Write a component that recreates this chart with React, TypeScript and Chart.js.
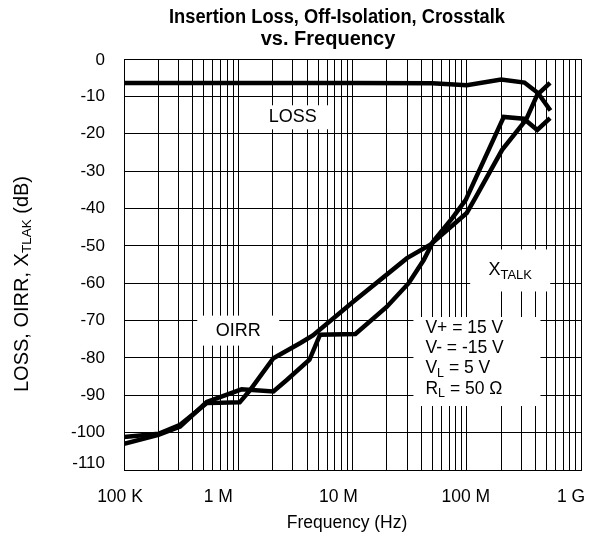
import React, { useEffect, useRef } from 'react';
import { Chart, registerables } from 'chart.js';

Chart.register(...registerables);

const FONT = '"Liberation Sans", Arial, Helvetica, sans-serif';

const TITLE_LINES = ['Insertion Loss, Off-Isolation, Crosstalk', 'vs. Frequency'];
const X_TITLE = 'Frequency (Hz)';
const Y_TITLE_PARTS = [
  { t: 'LOSS, OIRR, X', s: false },
  { t: 'TLAK', s: true },
  { t: ' (dB)', s: false },
];

const X_TICK_VALUES = [1e5, 1e6, 1e7, 1e8, 1e9];
const X_TICK_LABELS = ['100 K', '1 M', '10 M', '100 M', '1 G'];
const X_MINOR_MULTIPLIERS = [2, 3, 4, 5, 6, 7, 8, 9];
const Y_TICK_VALUES = [0, -10, -20, -30, -40, -50, -60, -70, -80, -90, -100, -110];
const Y_TICK_LABELS = ['0', '-10', '-20', '-30', '-40', '-50', '-60', '-70', '-80', '-90', '-100', '-110'];

const LOSS_FREQ = [1e5, 1e6, 1e7, 5e7, 1e8, 2e8, 3.2e8, 4.2e8, 5.4e8];
const LOSS_DB = [-6.4, -6.4, -6.4, -6.5, -7.0, -5.5, -6.3, -9.1, -13.8];

const OIRR_FREQ = [1e5, 2e5, 3.1e5, 5.3e5, 1.03e6, 1.27e6, 2.03e6, 3.5e6, 4.5e6, 1.02e7, 3e7, 4.8e7, 1.0e8, 1.2e8, 2.04e8, 3.3e8, 4.14e8, 5.36e8];
const OIRR_DB = [-101.2, -100.3, -97.9, -92.1, -91.9, -88.6, -80.1, -76.0, -74.0, -64.9, -53.3, -49.7, -41.2, -37.0, -24.3, -16.3, -9.6, -6.4];

const XTALK_FREQ = [1e5, 2e5, 3.1e5, 5.3e5, 1.07e6, 2.03e6, 2.66e6, 4.2e6, 5.2e6, 1.06e7, 2e7, 3.1e7, 4.2e7, 5.1e7, 7.5e7, 9.8e7, 2.11e8, 3.16e8, 4.14e8, 5.36e8];
const XTALK_DB = [-103.0, -100.6, -98.4, -91.8, -88.4, -89.0, -85.9, -80.5, -73.8, -73.6, -66.3, -60.0, -53.8, -48.8, -42.5, -37.7, -15.5, -16.0, -19.0, -15.8];

// annotation anchors in data units (freq, dB)
const NOTE_LOSS = { f: 3.0e6, db: -15.6, text: 'LOSS' };
const NOTE_OIRR = { f: 1.0e6, db: -72.7, text: 'OIRR' };
const NOTE_XTALK = { f: 2.4e8, db: -56.6 };
const COND_LINES = [
  [{ t: 'V+ = 15 V', s: false }],
  [{ t: 'V- = -15 V', s: false }],
  [{ t: 'V', s: false }, { t: 'L', s: true }, { t: ' = 5 V', s: false }],
  [{ t: 'R', s: false }, { t: 'L', s: true }, { t: ' = 50 Ω', s: false }],
];
const COND_ANCHOR = { f: 4.35e7, db: -72.0 };

// label placement tweaks (pixels)
const X_LABEL_DX = [-4, -20, -14, -1, -10];
const Y_LABEL_DY = [1, 0, 0, 0, 0, 0, 0, 0, 0, 0, 0, -7];

type Part = { t: string; s: boolean };

function zip(xs: number[], ys: number[]) {
  return xs.map((x, i) => ({ x, y: ys[i] }));
}

function drawRich(ctx: CanvasRenderingContext2D, parts: Part[], x: number, y: number, size: number, subSize: number, subDy: number) {
  let cx = x;
  for (const p of parts) {
    ctx.font = `${p.s ? subSize : size}px ${FONT}`;
    ctx.fillText(p.t, cx, p.s ? y + subDy : y);
    cx += ctx.measureText(p.t).width;
  }
  return cx - x;
}
function measureRich(ctx: CanvasRenderingContext2D, parts: Part[], size: number, subSize: number) {
  let w = 0;
  for (const p of parts) {
    ctx.font = `${p.s ? subSize : size}px ${FONT}`;
    w += ctx.measureText(p.t).width;
  }
  return w;
}

const notesPlugin = {
  id: 'notes',
  beforeDatasetsDraw(chart: any) {
    const { ctx, scales } = chart;
    const xs = scales.x, ys = scales.y;
    const px = (f: number) => xs.getPixelForValue(f);
    const py = (d: number) => ys.getPixelForValue(d);
    ctx.save();
    ctx.fillStyle = '#fff';
    const box = (cx: number, cy: number, w: number, h: number) => ctx.fillRect(cx - w / 2, cy - h / 2, w, h);
    box(px(NOTE_LOSS.f), py(NOTE_LOSS.db), 72, 24);
    box(px(NOTE_OIRR.f), py(NOTE_OIRR.db), 82, 30);
    box(px(NOTE_XTALK.f), py(NOTE_XTALK.db), 80, 42);
    const cx0 = px(COND_ANCHOR.f), cy0 = py(COND_ANCHOR.db);
    ctx.fillRect(cx0 - 12, cy0 - 11, 127, 89);

    ctx.fillStyle = '#000';
    ctx.textBaseline = 'middle';
    ctx.textAlign = 'center';
    ctx.font = `18px ${FONT}`;
    ctx.fillText(NOTE_LOSS.text, px(NOTE_LOSS.f), py(NOTE_LOSS.db));
    ctx.fillText(NOTE_OIRR.text, px(NOTE_OIRR.f), py(NOTE_OIRR.db));
    ctx.textAlign = 'left';
    const xt: Part[] = [{ t: 'X', s: false }, { t: 'TALK', s: true }];
    const w = measureRich(ctx, xt, 18, 13);
    drawRich(ctx, xt, px(NOTE_XTALK.f) - w / 2, py(NOTE_XTALK.db), 18, 13, 5);
    COND_LINES.forEach((line, i) => {
      drawRich(ctx, line, cx0, cy0 + i * 20.3, 17.5, 12.5, 5);
    });
    ctx.restore();
  },
  afterDraw(chart: any) {
    const { ctx, scales } = chart;
    const xs = scales.x, ys = scales.y;
    ctx.save();
    ctx.fillStyle = '#000';
    ctx.textBaseline = 'middle';
    ctx.textAlign = 'center';
    // title
    ctx.font = `bold 20px ${FONT}`;
    ctx.fillText(TITLE_LINES[0], 337, 17, 336);
    ctx.fillText(TITLE_LINES[1], 328, 39);
    // x tick labels
    ctx.font = `17.5px ${FONT}`;
    X_TICK_VALUES.forEach((v, i) => {
      ctx.fillText(X_TICK_LABELS[i], xs.getPixelForValue(v) + X_LABEL_DX[i], xs.bottom - 45);
    });
    // x title
    ctx.font = `17.5px ${FONT}`;
    ctx.fillText(X_TITLE, 347, 523);
    // y tick labels
    ctx.textAlign = 'right';
    ctx.font = `17px ${FONT}`;
    Y_TICK_VALUES.forEach((v, i) => {
      ctx.fillText(Y_TICK_LABELS[i], ys.left + ys.width - 19, ys.getPixelForValue(v) + Y_LABEL_DY[i]);
    });
    // y title with subscript
    const w = measureRich(ctx, Y_TITLE_PARTS, 20, 13.5);
    ctx.translate(22, 284);
    ctx.rotate(-Math.PI / 2);
    ctx.textAlign = 'left';
    drawRich(ctx, Y_TITLE_PARTS, -w / 2, 0, 20, 13.5, 5);
    ctx.restore();
  },
};

export default function App() {
  const ref = useRef<HTMLCanvasElement | null>(null);
  useEffect(() => {
    if (!ref.current) return;
    const grid: number[] = [];
    X_TICK_VALUES.forEach((d, i) => {
      grid.push(d);
      if (i < X_TICK_VALUES.length - 1) X_MINOR_MULTIPLIERS.forEach((m) => grid.push(d * m));
    });
    const line = (label: string, xs: number[], ys: number[]) => ({
      label,
      data: zip(xs, ys),
      borderColor: '#000',
      backgroundColor: '#000',
      borderWidth: 4.5,
      pointRadius: 0,
      tension: 0,
      fill: false,
    });
    const chart = new Chart(ref.current, {
      type: 'line',
      data: {
        datasets: [
          line('LOSS', LOSS_FREQ, LOSS_DB),
          line('OIRR', OIRR_FREQ, OIRR_DB),
          line('XTALK', XTALK_FREQ, XTALK_DB),
        ],
      },
      options: {
        responsive: false,
        animation: false,
        devicePixelRatio: 1,
        layout: { padding: { top: 59, right: 16, bottom: 0, left: 0 } },
        plugins: { legend: { display: false }, title: { display: false }, tooltip: { enabled: false } },
        scales: {
          x: {
            type: 'logarithmic',
            min: 1e5,
            max: 1e9,
            afterBuildTicks: (s: any) => {
              s.ticks = grid.map((v) => ({ value: v }));
            },
            afterFit: (s: any) => {
              s.height = 72;
            },
            grid: { color: '#000', lineWidth: 1, drawTicks: false },
            border: { color: '#000', width: 1 },
            ticks: { display: false, autoSkip: false, maxRotation: 0, minRotation: 0 },
            title: { display: false },
          },
          y: {
            type: 'linear',
            min: -110,
            max: 0,
            afterBuildTicks: (s: any) => {
              s.ticks = Y_TICK_VALUES.map((v) => ({ value: v }));
            },
            afterFit: (s: any) => {
              s.width = 124;
            },
            grid: { color: '#000', lineWidth: 1, drawTicks: false },
            border: { color: '#000', width: 1 },
            ticks: { display: false },
          },
        },
      },
      plugins: [notesPlugin],
    });
    return () => chart.destroy();
  }, []);
  return (
    <div style={{ position: 'absolute', left: 0, top: 0, width: 597, height: 542, background: '#fff' }}>
      <canvas ref={ref} width={597} height={542} style={{ display: 'block', width: 597, height: 542 }} />
    </div>
  );
}
